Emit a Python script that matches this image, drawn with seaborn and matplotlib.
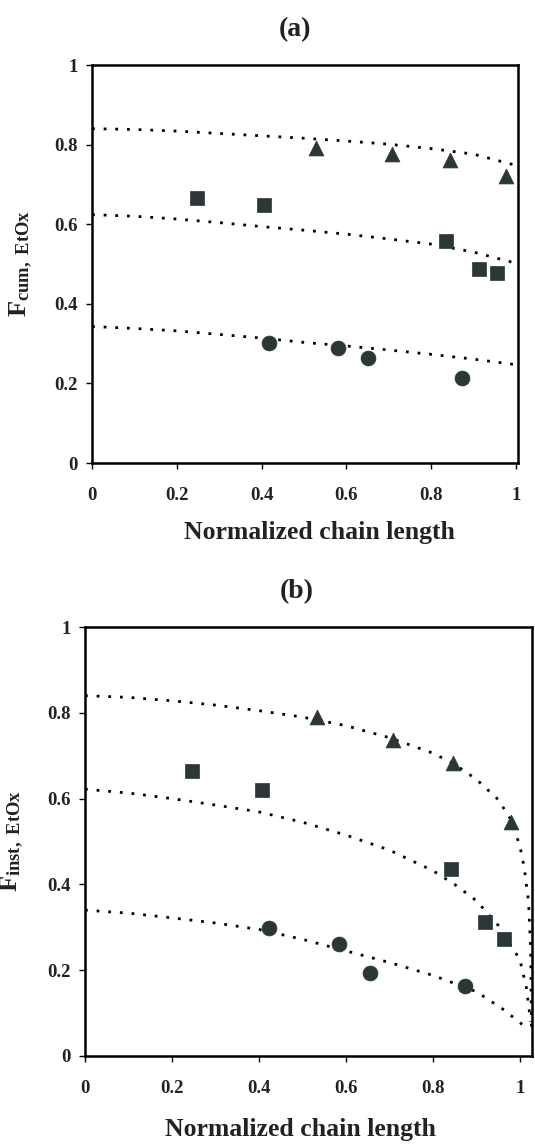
import matplotlib
matplotlib.use("Agg")
import matplotlib.pyplot as plt
import seaborn as sns
import pandas as pd

sns.set_theme(style="white")
plt.rcParams['font.family'] = ['Liberation Serif', 'DejaVu Serif']
plt.rcParams['font.weight'] = 'bold'
plt.rcParams['mathtext.fontset'] = 'custom'
plt.rcParams['mathtext.rm'] = 'Liberation Serif:bold'
plt.rcParams['mathtext.bf'] = 'Liberation Serif:bold'
plt.rcParams['mathtext.it'] = 'Liberation Serif:bold'

# ---------------- data: panel (a) cumulative ----------------
a_tri_x = [0.528, 0.707, 0.844, 0.976]
a_tri_y = [0.791, 0.776, 0.761, 0.721]
a_sq_x = [0.247, 0.406, 0.834, 0.913, 0.956]
a_sq_y = [0.666, 0.648, 0.558, 0.487, 0.477]
a_ci_x = [0.418, 0.580, 0.652, 0.872]
a_ci_y = [0.302, 0.289, 0.264, 0.214]

a_curve_x = [0, 0.1, 0.2, 0.3, 0.4, 0.5, 0.6, 0.7, 0.8, 0.9, 1.0]
a_top_y = [0.840, 0.838, 0.834, 0.828, 0.822, 0.816, 0.809, 0.801, 0.790, 0.776, 0.748]
a_mid_y = [0.624, 0.620, 0.613, 0.604, 0.594, 0.585, 0.575, 0.563, 0.550, 0.530, 0.502]
a_bot_y = [0.343, 0.338, 0.332, 0.323, 0.314, 0.303, 0.294, 0.284, 0.273, 0.261, 0.247]

# ---------------- data: panel (b) instantaneous ----------------
b_tri_x = [0.533, 0.709, 0.847, 0.979]
b_tri_y = [0.790, 0.737, 0.683, 0.545]
b_sq_x = [0.247, 0.408, 0.841, 0.921, 0.964]
b_sq_y = [0.664, 0.620, 0.436, 0.312, 0.272]
b_ci_x = [0.424, 0.583, 0.656, 0.875]
b_ci_y = [0.298, 0.261, 0.193, 0.163]

b_top_x = [0, 0.1, 0.2, 0.3, 0.4, 0.5, 0.6, 0.7, 0.8, 0.85, 0.9, 0.95, 0.98, 1.0, 1.01, 1.02, 1.025, 1.027]
b_top_y = [0.840, 0.836, 0.828, 0.818, 0.805, 0.790, 0.770, 0.742, 0.706, 0.680, 0.645, 0.598, 0.550, 0.490, 0.440, 0.360, 0.250, 0.05]
b_mid_x = [0, 0.1, 0.2, 0.3, 0.4, 0.5, 0.6, 0.7, 0.8, 0.85, 0.9, 0.95, 1.0, 1.015, 1.025]
b_mid_y = [0.622, 0.613, 0.600, 0.585, 0.569, 0.545, 0.515, 0.480, 0.432, 0.400, 0.362, 0.305, 0.225, 0.160, 0.08]
b_bot_x = [0, 0.1, 0.2, 0.3, 0.4, 0.5, 0.6, 0.7, 0.8, 0.9, 0.96, 1.02]
b_bot_y = [0.340, 0.333, 0.322, 0.310, 0.295, 0.272, 0.245, 0.218, 0.188, 0.150, 0.110, 0.062]

x_ticks = [0, 0.2, 0.4, 0.6, 0.8, 1.0]
x_ticklabels = ["0", "0.2", "0.4", "0.6", "0.8", "1"]
y_ticks = [0, 0.2, 0.4, 0.6, 0.8, 1.0]
y_ticklabels = ["0", "0.2", "0.4", "0.6", "0.8", "1"]

MARK = "#2b3636"
W, H = 535, 1144
fig = plt.figure(figsize=(W / 100, H / 100), dpi=100)


def px_axes(left, top, right, bottom):
    return fig.add_axes([left / W, 1 - bottom / H, (right - left) / W, (bottom - top) / H])


def draw_panel(ax, curves, tri, sq, ci, xmax, ylab, ylab_x, xlab_xy):
    for cx, cy in curves:
        sns.lineplot(x=cx, y=cy, ax=ax, sort=False, estimator=None, color="black",
                     lw=2.0, linestyle=(0, (1, 3.2)), legend=False)
    for (xs, ys), m in zip([tri, sq, ci], ["^", "s", "o"]):
        sns.scatterplot(x=xs, y=ys, ax=ax, marker=m, s=115, color=MARK,
                        edgecolor=MARK, linewidth=0.5, legend=False, zorder=5)
    ax.set_xlim(0, xmax)
    ax.set_ylim(0, 1)
    ax.set_xticks(x_ticks)
    ax.set_xticklabels(x_ticklabels)
    ax.set_yticks(y_ticks)
    ax.set_yticklabels(y_ticklabels)
    for s in ax.spines.values():
        s.set_color("black")
        s.set_linewidth(1.8)
        s.set_visible(True)
    ax.tick_params(axis="both", which="both", direction="out", length=4, width=1,
                   color="black", labelsize=13.5, labelcolor="#222222")
    ax.tick_params(axis="x", pad=13)
    ax.tick_params(axis="y", pad=6, left=True)
    ax.tick_params(axis="x", bottom=True)
    for lab in ax.get_xticklabels() + ax.get_yticklabels():
        lab.set_fontweight("bold")
    ax.set_xlabel("Normalized chain length", fontsize=18.5, fontweight="bold", color="#222222", va="center")
    ax.xaxis.set_label_coords(*xlab_xy)
    ax.set_ylabel(ylab, fontsize=19, color="#222222", va="center")
    ax.yaxis.set_label_coords(ylab_x, 0.5)
    ax.set_facecolor("white")


ax1 = px_axes(92, 65, 518, 463)
draw_panel(ax1,
           [(a_curve_x, a_top_y), (a_curve_x, a_mid_y), (a_curve_x, a_bot_y)],
           (a_tri_x, a_tri_y), (a_sq_x, a_sq_y), (a_ci_x, a_ci_y),
           1.005, r"$\mathbf{F}_{\mathbf{cum,\ EtOx}}$", -0.165, (0.533, -0.175))

ax2 = px_axes(85, 627, 532, 1056)
draw_panel(ax2,
           [(b_top_x, b_top_y), (b_mid_x, b_mid_y), (b_bot_x, b_bot_y)],
           (b_tri_x, b_tri_y), (b_sq_x, b_sq_y), (b_ci_x, b_ci_y),
           1.028, r"$\mathbf{F}_{\mathbf{inst,\ EtOx}}$", -0.162, (0.483, -0.172))

fig.text(295 / W, 1 - 30 / H, "(a)", fontsize=20, fontweight="bold", ha="center", va="center", color="#222222")
fig.text(297 / W, 1 - 592 / H, "(b)", fontsize=20, fontweight="bold", ha="center", va="center", color="#222222")

fig.savefig("out.png", dpi=100, facecolor="white")
